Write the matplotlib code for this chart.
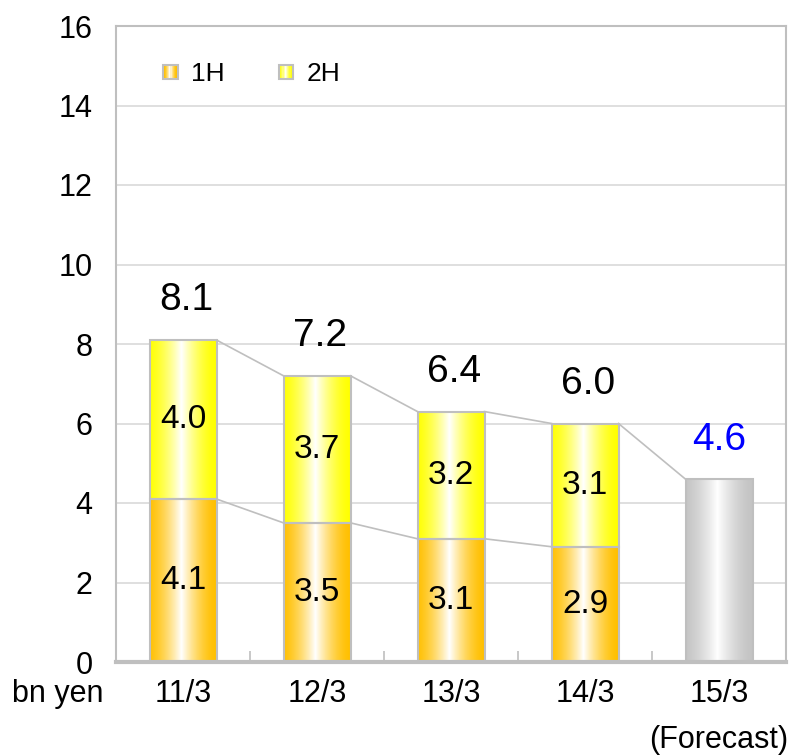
import numpy as np
import matplotlib
matplotlib.use('Agg')
import matplotlib.pyplot as plt
from matplotlib.colors import to_rgb
from matplotlib.legend_handler import HandlerBase
from matplotlib.patches import Rectangle

plt.rcParams['font.family'] = ['Liberation Sans', 'DejaVu Sans']

periods = ['11/3', '12/3', '13/3', '14/3', '15/3\n(Forecast)']
first_half = [4.1, 3.5, 3.1, 2.9]
second_half = [4.0, 3.7, 3.2, 3.1]
totals = [8.1, 7.2, 6.4, 6.0]
forecast = 4.6

ORANGE = '#FFC000'
YELLOW = '#FFFF00'
GREY = '#C4C4C4'
EDGE = '#BFBFBF'
BAR_W = 0.5


def gradient(color, n=80):
    # horizontal gradient: colour at the edges, white near the middle
    t = np.linspace(0, 1, n)
    w = np.clip(1 - np.abs(t - 0.47) / 0.53, 0, 1) ** 1.6
    c = np.array(to_rgb(color))
    rgb = c[None, :] * (1 - w[:, None]) + w[:, None]
    return rgb[None, :, :]


def fill_bars(ax, bars, color):
    for r in bars:
        x0, y0 = r.get_xy()
        ax.imshow(gradient(color), extent=[x0, x0 + r.get_width(), y0, y0 + r.get_height()],
                  aspect='auto', interpolation='bilinear', zorder=2)


class HandlerGradient(HandlerBase):
    def __init__(self, color):
        super().__init__()
        self.color = color

    def create_artists(self, legend, orig_handle, xdescent, ydescent, width, height, fontsize, trans):
        n = 12
        cols = gradient(self.color, n)[0]
        side = height
        x0 = -xdescent + (width - side) / 2
        y0 = -ydescent
        arts = [Rectangle((x0 + i * side / n, y0), side / n, side, facecolor=cols[i],
                          edgecolor='none', transform=trans) for i in range(n)]
        arts.append(Rectangle((x0, y0), side, side, facecolor='none', edgecolor=EDGE,
                              lw=1.5, transform=trans))
        return arts


fig = plt.figure(figsize=(7.96, 7.56), dpi=100)
ax = fig.add_axes([116 / 796, 1 - 662 / 756, 670 / 796, 636 / 756])

x = np.arange(len(periods))
xs = x[:len(first_half)]
cum = np.array(first_half) + np.array(second_half)

b1 = ax.bar(xs, first_half, width=BAR_W, facecolor='none', edgecolor=EDGE, lw=1.5, zorder=3)
b2 = ax.bar(xs, second_half, bottom=first_half, width=BAR_W, facecolor='none',
            edgecolor=EDGE, lw=1.5, zorder=3)
b3 = ax.bar(x[-1], forecast, width=BAR_W, facecolor='none', edgecolor=EDGE, lw=1.5, zorder=3)
fill_bars(ax, b1, ORANGE)
fill_bars(ax, b2, YELLOW)
fill_bars(ax, b3, GREY)

# connector lines between bar tops
tops = list(cum) + [forecast]
for i in range(len(tops) - 1):
    ax.plot([x[i] + BAR_W / 2, x[i + 1] - BAR_W / 2], [tops[i], tops[i + 1]],
            color=EDGE, lw=1.2, zorder=1)
for i in range(len(first_half) - 1):
    ax.plot([x[i] + BAR_W / 2, x[i + 1] - BAR_W / 2], [first_half[i], first_half[i + 1]],
            color=EDGE, lw=1.2, zorder=1)

# segment labels
for i in range(len(first_half)):
    ax.text(xs[i], first_half[i] / 2, f'{first_half[i]:.1f}', ha='center', va='center',
            fontsize=24, zorder=4)
    ax.text(xs[i], first_half[i] + second_half[i] / 2, f'{second_half[i]:.1f}',
            ha='center', va='center', fontsize=24, zorder=4)
    ax.annotate(f'{totals[i]:.1f}', (xs[i], cum[i]), xytext=(3, 40), textcoords='offset pixels',
                ha='center', va='center', fontsize=28)
ax.annotate(f'{forecast:.1f}', (x[-1], forecast), xytext=(0, 39), textcoords='offset pixels',
            ha='center', va='center', fontsize=28, color='#0000FF')

ax.set_xlim(-0.5, len(periods) - 0.5)
ax.set_ylim(0, 16)
ax.set_yticks(np.arange(0, 17, 2))
ax.yaxis.grid(True, color='#D9D9D9', lw=1.2)
ax.set_axisbelow(True)
ax.tick_params(axis='y', length=0, pad=17, labelsize=22)

ax.set_xticks(x)
ax.set_xticklabels(periods, fontsize=22, linespacing=1.7, va='top')
ax.tick_params(axis='x', length=0, pad=12)
ax.set_xticks(np.arange(0.5, len(periods) - 1, 1), minor=True)
ax.tick_params(axis='x', which='minor', direction='in', length=8, color=EDGE, width=1.2)

for s in ['left', 'top', 'right']:
    ax.spines[s].set_color(EDGE)
    ax.spines[s].set_linewidth(1.5)
ax.spines['bottom'].set_color(EDGE)
ax.spines['bottom'].set_linewidth(3)

ax.annotate('bn yen', (0, 0), xycoords='axes fraction', xytext=(-58, -17),
            textcoords='offset pixels', ha='center', va='top', fontsize=22)

h1 = Rectangle((0, 0), 1, 1)
h2 = Rectangle((0, 0), 1, 1)
ax.legend([h1, h2], ['1H', '2H'], handler_map={h1: HandlerGradient(ORANGE), h2: HandlerGradient(YELLOW)},
          loc='upper left', bbox_to_anchor=(0.037, 0.98), ncol=2, frameon=False, fontsize=19,
          handlelength=0.45, handleheight=0.45, handletextpad=0.55, columnspacing=2.1)

fig.savefig('out.png', dpi=100)
